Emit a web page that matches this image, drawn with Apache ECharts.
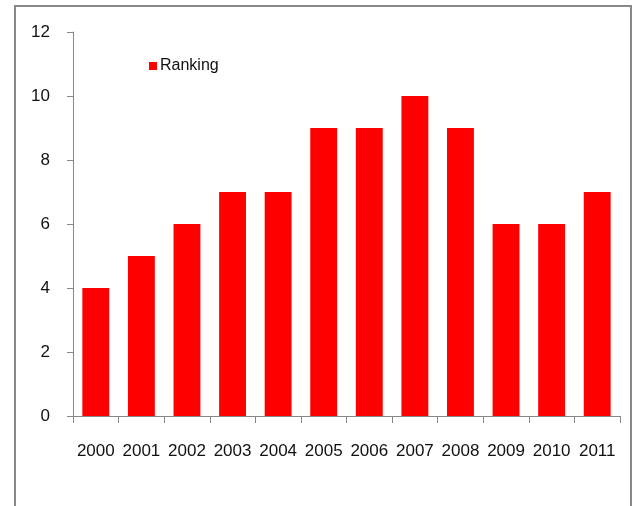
<!DOCTYPE html>
<html>
<head>
<meta charset="utf-8">
<script src="https://cdn.jsdelivr.net/npm/echarts@6/dist/echarts.min.js"></script>
<style>
  html, body { margin: 0; padding: 0; background: #fff; }
  #chart { width: 632px; height: 506px; }
</style>
</head>
<body>
<div id="chart"></div>
<script>
// Yearly ranking values
const years = ['2000', '2001', '2002', '2003', '2004', '2005', '2006', '2007', '2008', '2009', '2010', '2011'];
const ranking = [4, 5, 6, 7, 7, 9, 9, 10, 9, 6, 6, 7];
const seriesName = 'Ranking';

const chart = echarts.init(document.getElementById('chart'), null, { renderer: 'canvas' });

const textFont = 'Liberation Sans, Arial, sans-serif';

chart.setOption({
  animation: false,
  backgroundColor: '#ffffff',
  graphic: [{
    // outer chart-area frame, open at the bottom edge of the page
    type: 'rect',
    shape: { x: 15, y: 6, width: 616, height: 560 },
    style: { fill: 'none', stroke: '#888888', lineWidth: 2 },
    silent: true
  }],
  legend: {
    left: 144,
    top: 53,
    itemWidth: 8,
    itemHeight: 8,
    itemGap: 4,
    icon: 'rect',
    textStyle: { fontFamily: textFont, fontSize: 16, color: '#111', padding: [0, 0, 0, -2] },
    data: [seriesName]
  },
  grid: { left: 73, right: 12, top: 32, bottom: 90, containLabel: false },
  xAxis: {
    type: 'category',
    data: years,
    axisLine: { lineStyle: { color: '#888888', width: 1 } },
    axisTick: { show: true, alignWithLabel: false, length: 7, lineStyle: { color: '#888888' } },
    axisLabel: { interval: 0, hideOverlap: false, margin: 27, fontFamily: textFont, fontSize: 17, color: '#111' }
  },
  yAxis: {
    type: 'value',
    min: 0,
    max: 12,
    interval: 2,
    axisLine: { show: true, lineStyle: { color: '#888888', width: 1 } },
    axisTick: { show: true, length: 6, lineStyle: { color: '#888888' } },
    splitLine: { show: false },
    axisLabel: { margin: 23, fontFamily: textFont, fontSize: 17, color: '#111' }
  },
  series: [{
    name: seriesName,
    type: 'bar',
    data: ranking,
    barWidth: '59%',
    itemStyle: { color: '#ff0000' }
  }]
});
</script>
</body>
</html>
